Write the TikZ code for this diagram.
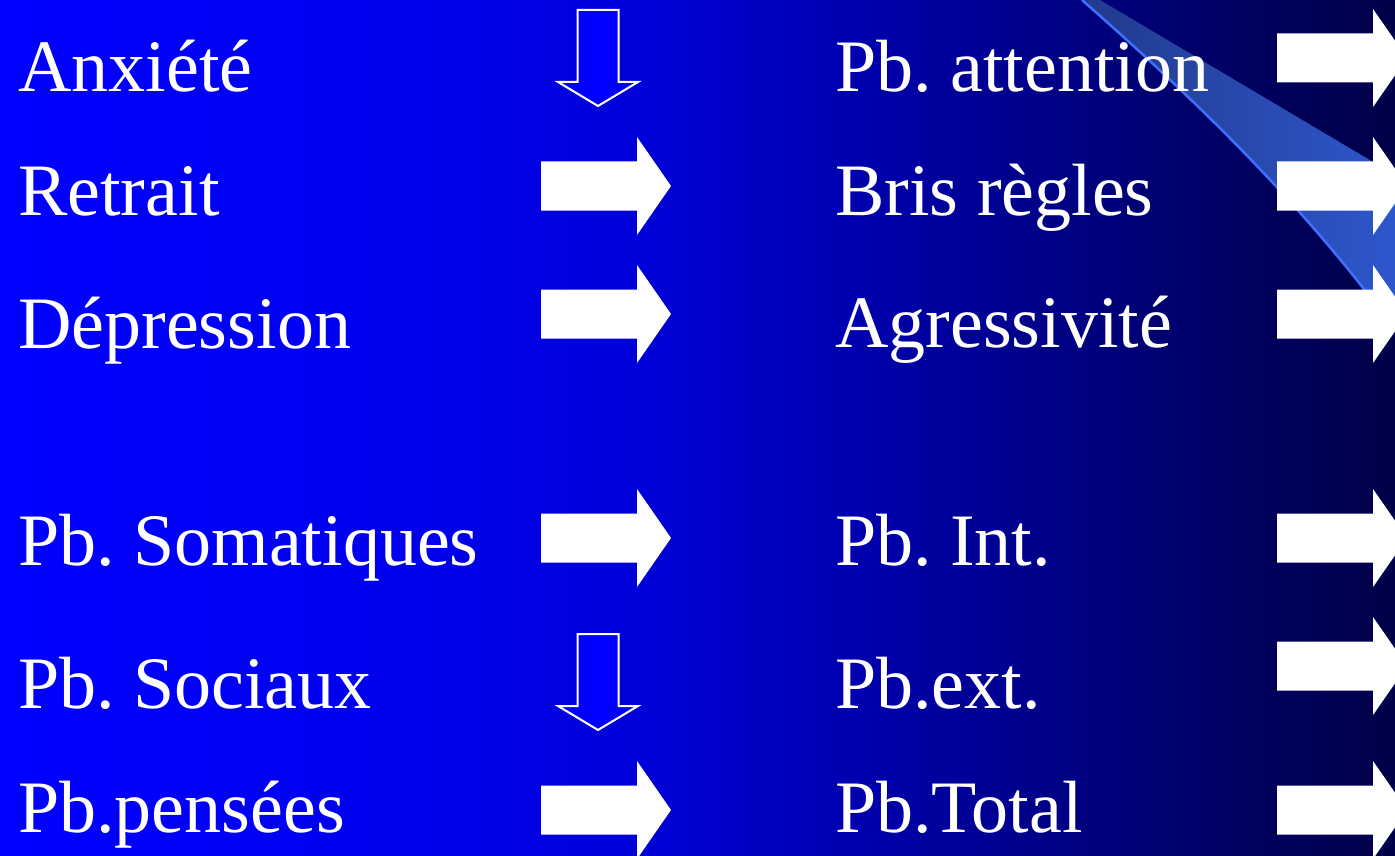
\documentclass[tikz,border=0pt]{standalone}
\usepackage{fontspec}
\setmainfont{Liberation Serif}
\usepackage{tikz}

\definecolor{vif}{RGB}{0,0,255}
\definecolor{bandeg}{RGB}{34,58,140}
\definecolor{banded}{RGB}{46,86,204}
\definecolor{bord}{RGB}{62,112,255}
\pgfdeclarehorizontalshading{fond}{100bp}{rgb(0bp)=(0,0,1); rgb(25bp)=(0,0,1); rgb(37.5bp)=(0,0,.94); rgb(47.5bp)=(0,0,.86); rgb(55bp)=(0,0,.70); rgb(62.5bp)=(0,0,.53); rgb(70bp)=(0,0,.37); rgb(75bp)=(0,0,.28); rgb(100bp)=(0,0,.28)}

\tikzset{
  etiq/.style={anchor=base west, inner sep=0pt, text=white, font=\fontsize{74}{80}\selectfont\frenchspacing},
  flechedroite/.pic={\fill[white] (0,-24.5) -- (96,-24.5) -- (96,-49) -- (130,0) -- (96,49) -- (96,24.5) -- (0,24.5) -- cycle;},
  flechebas/.pic={\filldraw[fill=vif, draw=white, line width=2pt] (-20.5,0) -- (20.5,0) -- (20.5,72) -- (40,72) -- (0,96) -- (-40,72) -- (-20.5,72) -- cycle;}
}

\begin{document}
\begin{tikzpicture}[x=1pt,y=-1pt]
    \useasboundingbox (0,0) rectangle (1395,856);
    \clip (0,0) rectangle (1395,856);
    \shade[shading=fond] (0,0) rectangle (1395,856);
    % bande claire en haut a droite
    \shade[left color=bandeg, right color=banded] (1100,0) -- (1395,175) -- (1395,330) .. controls (1300,200) and (1190,95) .. (1082,0) -- cycle;
    \draw[bord, line width=2.5pt] (1082,0) .. controls (1190,95) and (1300,200) .. (1395,330);
    % premiere colonne
    \node[etiq] (anx) at (18,92) {Anxiété};
    \node[etiq] (ret) at (18,215) {Retrait};
    \node[etiq] (dep) at (18,348) {Dépression};
    \node[etiq] (soma) at (18,565) {Pb. Somatiques};
    \node[etiq] (soc) at (18,708) {Pb. Sociaux};
    \node[etiq] (pens) at (18,832) {Pb.pensées};
    % deuxieme colonne
    \node[etiq] (att) at (835,92) {Pb. attention};
    \node[etiq] (bris) at (835,215) {Bris règles};
    \node[etiq] (agr) at (835,347) {Agressivité};
    \node[etiq] (int) at (835,565) {Pb. Int.};
    \node[etiq] (ext) at (835,708) {Pb.ext.};
    \node[etiq] (tot) at (835,832) {Pb.Total};
    % fleches
    \foreach \y in {186,314,538,810} \pic at (541,\y) {flechedroite};
    \foreach \y in {58,186,314,538,666,810} \pic at (1277,\y) {flechedroite};
    \foreach \y in {10,634} \pic at (598,\y) {flechebas};
\end{tikzpicture}
\end{document}
